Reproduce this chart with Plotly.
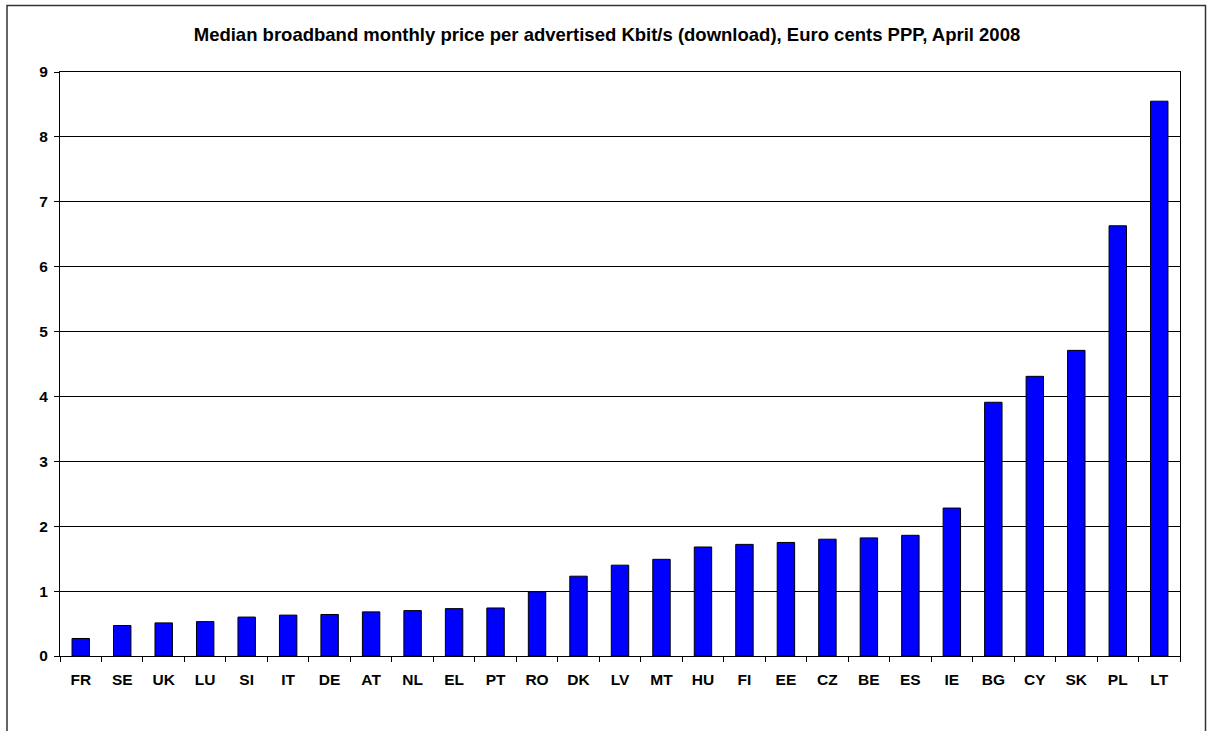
import plotly.graph_objects as go

countries = ["FR", "SE", "UK", "LU", "SI", "IT", "DE", "AT", "NL", "EL", "PT", "RO", "DK",
             "LV", "MT", "HU", "FI", "EE", "CZ", "BE", "ES", "IE", "BG", "CY", "SK", "PL", "LT"]
values = [0.27, 0.47, 0.51, 0.53, 0.60, 0.63, 0.64, 0.68, 0.70, 0.73, 0.74, 0.99, 1.23,
          1.40, 1.49, 1.68, 1.72, 1.75, 1.80, 1.82, 1.86, 2.28, 3.91, 4.31, 4.71, 6.63, 8.55]
y_ticks = list(range(0, 10))
title_text = "Median broadband monthly price per advertised Kbit/s (download), Euro cents PPP, April 2008"

FONT = "Arial, Liberation Sans, sans-serif"

fig = go.Figure(go.Bar(
    x=countries, y=values,
    marker=dict(color="#0000FF", line=dict(color="black", width=1)),
    width=0.42,
))

L, R, T, B = 60, 29, 71.5, 75
W, H = 1209, 731
pw, ph = W - L - R, H - T - B

def px_x(p):
    return (p - L) / pw

def px_y(p):
    return (H - B - p) / ph

fig.update_layout(
    width=W, height=H,
    margin=dict(l=L, r=R, t=T, b=B, pad=0),
    paper_bgcolor="white", plot_bgcolor="white",
    showlegend=False,
    title=dict(text=title_text, x=607 / W, xref="container",
               xanchor="center", y=1 - 35 / H, yanchor="middle",
               font=dict(family=FONT, size=18.5, color="black", weight="bold")),
    font=dict(family=FONT, color="black"),
    shapes=[dict(type="rect", xref="paper", yref="paper",
                 x0=px_x(7), x1=px_x(1205.5), y0=px_y(760), y1=px_y(5),
                 line=dict(color="#333333", width=1.5), fillcolor="rgba(0,0,0,0)")],
)

fig.update_xaxes(
    type="category", tickson="boundaries", ticks="outside", ticklen=5, tickcolor="black",
    showline=True, linecolor="black", linewidth=1, mirror=True, showgrid=False,
    tickfont=dict(family=FONT, size=15.5, color="black", weight="bold"), ticklabelstandoff=9,
)
fig.update_yaxes(
    range=[0, 9], tickvals=y_ticks, ticks="outside", ticklen=5, tickcolor="black",
    showline=True, linecolor="black", linewidth=1, mirror=True,
    showgrid=True, gridcolor="black", gridwidth=1, zeroline=False,
    tickfont=dict(family=FONT, size=15.5, color="black", weight="bold"), ticklabelstandoff=3,
)

fig.write_html("out.html", config={"displayModeBar": False},
               post_script="document.body.style.margin='0';")
